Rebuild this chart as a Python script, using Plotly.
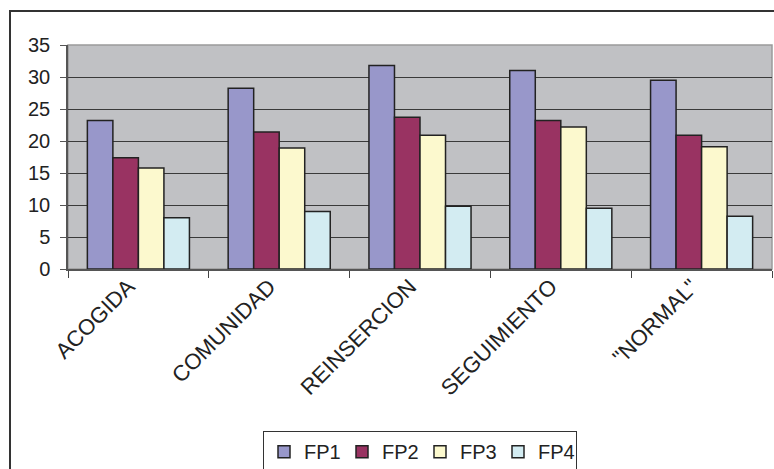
import plotly.graph_objects as go

categories = ["ACOGIDA", "COMUNIDAD", "REINSERCION", "SEGUIMIENTO", "\"NORMAL\""]
series_names = ["FP1", "FP2", "FP3", "FP4"]
fp1 = [23.2, 28.25, 31.8, 31.0, 29.5]
fp2 = [17.4, 21.4, 23.7, 23.2, 20.9]
fp3 = [15.8, 18.9, 20.9, 22.2, 19.1]
fp4 = [8.0, 9.0, 9.8, 9.5, 8.25]
y_ticks = [0, 5, 10, 15, 20, 25, 30, 35]

colors = ["#9897CA", "#993362", "#FCF9CE", "#D3ECF2"]

# figure slightly taller than the 469px window; the overflow is hidden
W, H = 774, 490
ML, MT = 68, 45
MR = W - 772
MB = H - 269.5
pw, ph = W - ML - MR, H - MT - MB

def px_x(p):
    return (p - ML) / pw

def px_y(p):
    return (H - MB - p) / ph

fig = go.Figure()
for name, vals, c in zip(series_names, [fp1, fp2, fp3, fp4], colors):
    fig.add_trace(go.Bar(
        x=categories, y=vals, name=name,
        marker=dict(color=c, line=dict(color="#222222", width=1.5)),
    ))

font = dict(family="Liberation Sans, Arial, sans-serif", size=20, color="#222222")
catfont = dict(family="Liberation Sans, Arial, sans-serif", size=22, color="#222222")

fig.update_layout(
    width=W, height=H,
    margin=dict(l=ML, r=MR, t=MT, b=MB, pad=0, autoexpand=False),
    paper_bgcolor="white",
    plot_bgcolor="#C0C1C4",
    barmode="group",
    bargap=0.275,
    bargroupgap=0,
    font=font,
    showlegend=True,
    legend=dict(
        orientation="h",
        x=0.5, xanchor="center",
        y=px_y(432), yanchor="top",
        bordercolor="#333333", borderwidth=1,
        bgcolor="white",
        font=font,
        itemwidth=30,
        entrywidth=33,
        tracegroupgap=0,
    ),
    xaxis=dict(
        type="category",
        tickangle=-45,
        ticks="outside", ticklen=7, tickwidth=1, tickcolor="#444444",
        tickson="boundaries",
        showline=True, linecolor="#555555", linewidth=2,
        showgrid=False,
        tickfont=catfont,
        ticklabelshift=-10,
        ticklabelstandoff=-6,
    ),
    yaxis=dict(
        range=[0, 35],
        tickvals=y_ticks,
        ticks="outside", ticklen=6, tickwidth=1, tickcolor="#555555",
        showline=True, linecolor="#555555", linewidth=1.5,
        showgrid=True, gridcolor="#3a3a3a", gridwidth=1,
        zeroline=False,
        tickfont=font,
        ticklabelstandoff=6,
    ),
    shapes=[
        dict(type="rect", xref="paper", yref="paper", x0=0, y0=0, x1=1, y1=1,
             line=dict(color="#9a9a9a", width=1.5), layer="below"),
        dict(type="rect", xref="paper", yref="paper",
             x0=px_x(10), y0=px_y(11), x1=px_x(830), y1=px_y(560),
             line=dict(color="#333333", width=2)),
    ],
)

fig.write_html(
    "out.html",
    config={"displayModeBar": False},
    post_script="document.body.style.margin='0';document.body.style.overflow='hidden';",
)
